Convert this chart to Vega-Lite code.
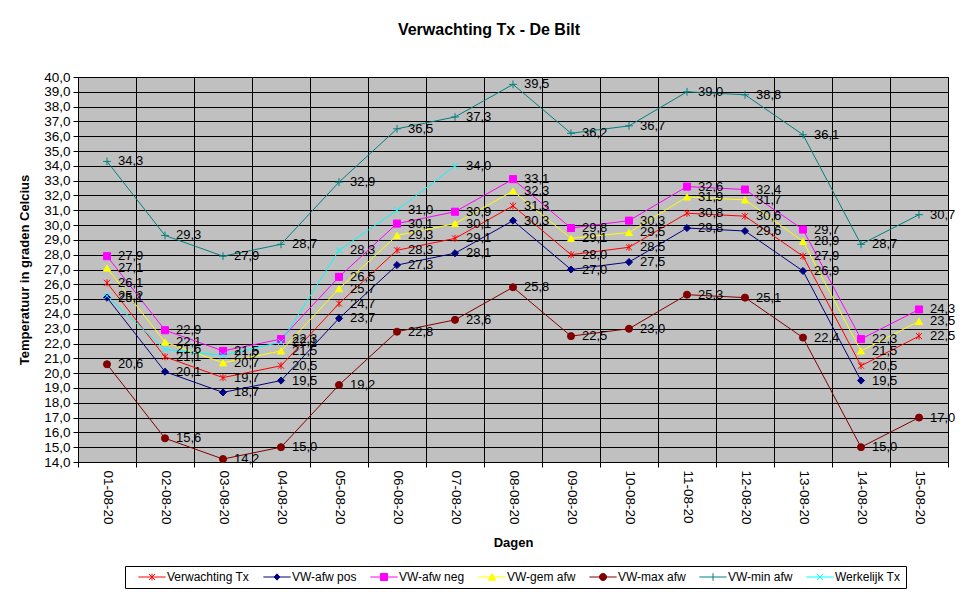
{
  "$schema": "https://vega.github.io/schema/vega-lite/v6.json",
  "description": "Verwachting Tx De Bilt, 1-15 augustus 2020",
  "width": 870,
  "height": 385,
  "autosize": "none",
  "padding": {"left": 78, "top": 77, "right": 28, "bottom": 137},
  "title": {
    "text": "Verwachting Tx - De Bilt",
    "font": "Liberation Sans",
    "fontSize": 16,
    "fontWeight": "bold",
    "color": "black",
    "anchor": "middle",
    "frame": "group",
    "offset": 32,
    "dx": -24
  },
  "config": {
    "locale": {"number": {"decimal": ",", "thousands": ".", "grouping": [3], "currency": ["", " €"]}},
    "font": "Liberation Sans",
    "background": "white",
    "view": {"fill": "#C0C0C0", "stroke": "#808080", "strokeWidth": 1},
    "axis": {
      "grid": true,
      "gridColor": "black",
      "gridOpacity": 1,
      "gridWidth": 1,
      "domainColor": "black",
      "tickColor": "black",
      "tickSize": 5,
      "labelFont": "Liberation Sans",
      "labelFontSize": 13.5,
      "labelColor": "black",
      "titleFont": "Liberation Sans",
      "titleFontSize": 13,
      "titleFontWeight": "bold",
      "titleColor": "black"
    },
    "legend": {
      "orient": "none",
      "legendX": 47,
      "legendY": 489,
      "direction": "horizontal",
      "columns": 7,
      "strokeColor": "black",
      "fillColor": "white",
      "padding": 5,
      "symbolSize": 49,
      "symbolOffset": 16,
      "labelOffset": 9,
      "columnPadding": 5,
      "symbolStrokeWidth": 1,
      "symbolOpacity": 1,
      "labelFont": "Liberation Sans",
      "labelFontSize": 12,
      "labelColor": "black",
      "labelLimit": 200
    }
  },
  "data": {
    "values": [
      {"dag": "01-08-20", "serie": "Verwachting Tx", "temp": 26.1},
      {"dag": "02-08-20", "serie": "Verwachting Tx", "temp": 21.1},
      {"dag": "03-08-20", "serie": "Verwachting Tx", "temp": 19.7},
      {"dag": "04-08-20", "serie": "Verwachting Tx", "temp": 20.5},
      {"dag": "05-08-20", "serie": "Verwachting Tx", "temp": 24.7},
      {"dag": "06-08-20", "serie": "Verwachting Tx", "temp": 28.3},
      {"dag": "07-08-20", "serie": "Verwachting Tx", "temp": 29.1},
      {"dag": "08-08-20", "serie": "Verwachting Tx", "temp": 31.3},
      {"dag": "09-08-20", "serie": "Verwachting Tx", "temp": 28.0},
      {"dag": "10-08-20", "serie": "Verwachting Tx", "temp": 28.5},
      {"dag": "11-08-20", "serie": "Verwachting Tx", "temp": 30.8},
      {"dag": "12-08-20", "serie": "Verwachting Tx", "temp": 30.6},
      {"dag": "13-08-20", "serie": "Verwachting Tx", "temp": 27.9},
      {"dag": "14-08-20", "serie": "Verwachting Tx", "temp": 20.5},
      {"dag": "15-08-20", "serie": "Verwachting Tx", "temp": 22.5},
      {"dag": "01-08-20", "serie": "VW-afw pos", "temp": 25.1},
      {"dag": "02-08-20", "serie": "VW-afw pos", "temp": 20.1},
      {"dag": "03-08-20", "serie": "VW-afw pos", "temp": 18.7},
      {"dag": "04-08-20", "serie": "VW-afw pos", "temp": 19.5},
      {"dag": "05-08-20", "serie": "VW-afw pos", "temp": 23.7},
      {"dag": "06-08-20", "serie": "VW-afw pos", "temp": 27.3},
      {"dag": "07-08-20", "serie": "VW-afw pos", "temp": 28.1},
      {"dag": "08-08-20", "serie": "VW-afw pos", "temp": 30.3},
      {"dag": "09-08-20", "serie": "VW-afw pos", "temp": 27.0},
      {"dag": "10-08-20", "serie": "VW-afw pos", "temp": 27.5},
      {"dag": "11-08-20", "serie": "VW-afw pos", "temp": 29.8},
      {"dag": "12-08-20", "serie": "VW-afw pos", "temp": 29.6},
      {"dag": "13-08-20", "serie": "VW-afw pos", "temp": 26.9},
      {"dag": "14-08-20", "serie": "VW-afw pos", "temp": 19.5},
      {"dag": "01-08-20", "serie": "VW-afw neg", "temp": 27.9},
      {"dag": "02-08-20", "serie": "VW-afw neg", "temp": 22.9},
      {"dag": "03-08-20", "serie": "VW-afw neg", "temp": 21.5},
      {"dag": "04-08-20", "serie": "VW-afw neg", "temp": 22.3},
      {"dag": "05-08-20", "serie": "VW-afw neg", "temp": 26.5},
      {"dag": "06-08-20", "serie": "VW-afw neg", "temp": 30.1},
      {"dag": "07-08-20", "serie": "VW-afw neg", "temp": 30.9},
      {"dag": "08-08-20", "serie": "VW-afw neg", "temp": 33.1},
      {"dag": "09-08-20", "serie": "VW-afw neg", "temp": 29.8},
      {"dag": "10-08-20", "serie": "VW-afw neg", "temp": 30.3},
      {"dag": "11-08-20", "serie": "VW-afw neg", "temp": 32.6},
      {"dag": "12-08-20", "serie": "VW-afw neg", "temp": 32.4},
      {"dag": "13-08-20", "serie": "VW-afw neg", "temp": 29.7},
      {"dag": "14-08-20", "serie": "VW-afw neg", "temp": 22.3},
      {"dag": "15-08-20", "serie": "VW-afw neg", "temp": 24.3},
      {"dag": "01-08-20", "serie": "VW-gem afw", "temp": 27.1},
      {"dag": "02-08-20", "serie": "VW-gem afw", "temp": 22.1},
      {"dag": "03-08-20", "serie": "VW-gem afw", "temp": 20.7},
      {"dag": "04-08-20", "serie": "VW-gem afw", "temp": 21.5},
      {"dag": "05-08-20", "serie": "VW-gem afw", "temp": 25.7},
      {"dag": "06-08-20", "serie": "VW-gem afw", "temp": 29.3},
      {"dag": "07-08-20", "serie": "VW-gem afw", "temp": 30.1},
      {"dag": "08-08-20", "serie": "VW-gem afw", "temp": 32.3},
      {"dag": "09-08-20", "serie": "VW-gem afw", "temp": 29.1},
      {"dag": "10-08-20", "serie": "VW-gem afw", "temp": 29.5},
      {"dag": "11-08-20", "serie": "VW-gem afw", "temp": 31.9},
      {"dag": "12-08-20", "serie": "VW-gem afw", "temp": 31.7},
      {"dag": "13-08-20", "serie": "VW-gem afw", "temp": 28.9},
      {"dag": "14-08-20", "serie": "VW-gem afw", "temp": 21.5},
      {"dag": "15-08-20", "serie": "VW-gem afw", "temp": 23.5},
      {"dag": "01-08-20", "serie": "VW-max afw", "temp": 20.6},
      {"dag": "02-08-20", "serie": "VW-max afw", "temp": 15.6},
      {"dag": "03-08-20", "serie": "VW-max afw", "temp": 14.2},
      {"dag": "04-08-20", "serie": "VW-max afw", "temp": 15.0},
      {"dag": "05-08-20", "serie": "VW-max afw", "temp": 19.2},
      {"dag": "06-08-20", "serie": "VW-max afw", "temp": 22.8},
      {"dag": "07-08-20", "serie": "VW-max afw", "temp": 23.6},
      {"dag": "08-08-20", "serie": "VW-max afw", "temp": 25.8},
      {"dag": "09-08-20", "serie": "VW-max afw", "temp": 22.5},
      {"dag": "10-08-20", "serie": "VW-max afw", "temp": 23.0},
      {"dag": "11-08-20", "serie": "VW-max afw", "temp": 25.3},
      {"dag": "12-08-20", "serie": "VW-max afw", "temp": 25.1},
      {"dag": "13-08-20", "serie": "VW-max afw", "temp": 22.4},
      {"dag": "14-08-20", "serie": "VW-max afw", "temp": 15.0},
      {"dag": "15-08-20", "serie": "VW-max afw", "temp": 17.0},
      {"dag": "01-08-20", "serie": "VW-min afw", "temp": 34.3},
      {"dag": "02-08-20", "serie": "VW-min afw", "temp": 29.3},
      {"dag": "03-08-20", "serie": "VW-min afw", "temp": 27.9},
      {"dag": "04-08-20", "serie": "VW-min afw", "temp": 28.7},
      {"dag": "05-08-20", "serie": "VW-min afw", "temp": 32.9},
      {"dag": "06-08-20", "serie": "VW-min afw", "temp": 36.5},
      {"dag": "07-08-20", "serie": "VW-min afw", "temp": 37.3},
      {"dag": "08-08-20", "serie": "VW-min afw", "temp": 39.5},
      {"dag": "09-08-20", "serie": "VW-min afw", "temp": 36.2},
      {"dag": "10-08-20", "serie": "VW-min afw", "temp": 36.7},
      {"dag": "11-08-20", "serie": "VW-min afw", "temp": 39.0},
      {"dag": "12-08-20", "serie": "VW-min afw", "temp": 38.8},
      {"dag": "13-08-20", "serie": "VW-min afw", "temp": 36.1},
      {"dag": "14-08-20", "serie": "VW-min afw", "temp": 28.7},
      {"dag": "15-08-20", "serie": "VW-min afw", "temp": 30.7},
      {"dag": "01-08-20", "serie": "Werkelijk Tx", "temp": 25.2},
      {"dag": "02-08-20", "serie": "Werkelijk Tx", "temp": 21.6},
      {"dag": "03-08-20", "serie": "Werkelijk Tx", "temp": 21.2},
      {"dag": "04-08-20", "serie": "Werkelijk Tx", "temp": 22.1},
      {"dag": "05-08-20", "serie": "Werkelijk Tx", "temp": 28.3},
      {"dag": "06-08-20", "serie": "Werkelijk Tx", "temp": 31.0},
      {"dag": "07-08-20", "serie": "Werkelijk Tx", "temp": 34.0}
    ]
  },
  "encoding": {
    "x": {
      "field": "dag",
      "type": "ordinal",
      "sort": null,
      "scale": {"type": "band", "paddingInner": 0, "paddingOuter": 0},
      "axis": {
        "title": "Dagen",
        "tickBand": "extent",
        "labelAngle": 90,
        "labelAlign": "left",
        "labelBaseline": "middle",
        "labelPadding": 3,
        "titlePadding": 12
      }
    },
    "y": {
      "field": "temp",
      "type": "quantitative",
      "scale": {"domain": [14, 40], "nice": false, "zero": false},
      "axis": {
        "title": "Temperatuur in graden Celcius",
        "tickCount": 26,
        "format": ".1f",
        "labelPadding": 3,
        "titlePadding": 12
      }
    }
  },
  "layer": [
    {
      "mark": {"type": "line", "strokeWidth": 1},
      "encoding": {
        "stroke": {
          "field": "serie",
          "type": "nominal",
          "scale": {
            "domain": ["Verwachting Tx", "VW-afw pos", "VW-afw neg", "VW-gem afw", "VW-max afw", "VW-min afw", "Werkelijk Tx"],
            "range": ["#FF0000", "#000080", "#FF00FF", "#FFFF00", "#800000", "#008080", "#00FFFF"]
          },
          "legend": null
        }
      }
    },
    {
      "mark": {"type": "point", "filled": true, "opacity": 1, "size": 50, "strokeWidth": 1},
      "encoding": {
        "shape": {
          "field": "serie",
          "type": "nominal",
          "scale": {
            "domain": ["Verwachting Tx", "VW-afw pos", "VW-afw neg", "VW-gem afw", "VW-max afw", "VW-min afw", "Werkelijk Tx"],
            "range": [
              "M0,-1L0,1M-0.85,-0.85L0.85,0.85M-0.85,0.85L0.85,-0.85",
              "diamond",
              "square",
              "triangle-up",
              "circle",
              "M-1.1,0L1.1,0M0,-1.1L0,1.1",
              "M-0.9,-0.9L0.9,0.9M-0.9,0.9L0.9,-0.9"
            ]
          },
          "legend": null
        },
        "fill": {
          "field": "serie",
          "type": "nominal",
          "scale": {
            "domain": ["Verwachting Tx", "VW-afw pos", "VW-afw neg", "VW-gem afw", "VW-max afw", "VW-min afw", "Werkelijk Tx"],
            "range": ["#FF0000", "#000080", "#FF00FF", "#FFFF00", "#800000", "#008080", "#00FFFF"]
          },
          "legend": null
        },
        "stroke": {
          "field": "serie",
          "type": "nominal",
          "scale": {
            "domain": ["Verwachting Tx", "VW-afw pos", "VW-afw neg", "VW-gem afw", "VW-max afw", "VW-min afw", "Werkelijk Tx"],
            "range": ["#FF0000", "#000080", "#FF00FF", "#FFFF00", "#800000", "#008080", "#00FFFF"]
          },
          "legend": null
        }
      }
    },
    {
      "mark": {"type": "text", "align": "left", "baseline": "middle", "dx": 11, "fontSize": 13, "font": "Liberation Sans", "color": "black"},
      "encoding": {
        "text": {"field": "temp", "type": "quantitative", "format": ".1f"}
      }
    },
    {
      "mark": {"type": "point", "filled": true, "opacity": 0, "size": 49, "strokeWidth": 1},
      "encoding": {
        "shape": {
          "field": "serie",
          "type": "nominal",
          "scale": {
            "domain": ["Verwachting Tx", "VW-afw pos", "VW-afw neg", "VW-gem afw", "VW-max afw", "VW-min afw", "Werkelijk Tx"],
            "range": [
              "M-3.9,0L3.9,0M0,-1L0,1M-0.85,-0.85L0.85,0.85M-0.85,0.85L0.85,-0.85",
              "M-3.9,0L3.9,0M0,-0.9L0.8,0L0,0.9L-0.8,0Z",
              "M-3.9,0L3.9,0M-1,-1L1,-1L1,1L-1,1Z",
              "M-3.9,0L3.9,0M0,-1L1.1,0.9L-1.1,0.9Z",
              "M-3.9,0L3.9,0M-1,0A1,1,0,1,0,1,0A1,1,0,1,0,-1,0Z",
              "M-3.9,0L3.9,0M0,-1.1L0,1.1",
              "M-3.9,0L3.9,0M-0.9,-0.9L0.9,0.9M-0.9,0.9L0.9,-0.9"
            ]
          },
          "legend": {"title": null}
        },
        "fill": {
          "field": "serie",
          "type": "nominal",
          "scale": {
            "domain": ["Verwachting Tx", "VW-afw pos", "VW-afw neg", "VW-gem afw", "VW-max afw", "VW-min afw", "Werkelijk Tx"],
            "range": ["#FF0000", "#000080", "#FF00FF", "#FFFF00", "#800000", "#008080", "#00FFFF"]
          },
          "legend": {"title": null}
        },
        "stroke": {
          "field": "serie",
          "type": "nominal",
          "scale": {
            "domain": ["Verwachting Tx", "VW-afw pos", "VW-afw neg", "VW-gem afw", "VW-max afw", "VW-min afw", "Werkelijk Tx"],
            "range": ["#FF0000", "#000080", "#FF00FF", "#FFFF00", "#800000", "#008080", "#00FFFF"]
          },
          "legend": {"title": null}
        }
      }
    }
  ],
  "resolve": {"scale": {"shape": "independent", "fill": "independent", "stroke": "independent"}}
}
